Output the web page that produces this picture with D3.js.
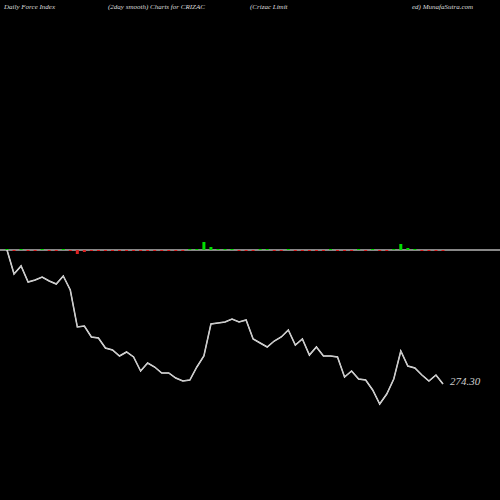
<!DOCTYPE html>
<html><head><meta charset="utf-8">
<script src="https://cdn.jsdelivr.net/npm/d3@7"></script>
<style>body{margin:0;background:#000}</style>
</head><body>
<script>
var closes = [341.3,329.3,333.3,325.3,326.3,327.8,325.8,324.3,328.3,321.3,302.8,303.3,297.8,297.3,292.3,291.3,288.3,290.3,287.8,280.8,284.8,282.8,279.8,279.8,277.3,275.8,276.3,282.8,288.3,304.3,304.8,305.3,306.8,305.3,306.3,296.8,294.8,292.8,295.8,297.8,301.3,293.8,296.8,288.8,292.8,288.3,288.3,287.8,277.8,280.8,276.8,276.3,271.3,264.3,269.3,276.8,290.8,283.3,282.3,278.8,275.8,278.8,274.3];
var force = [1,-1,1,-1,-1,1,-1,-1,1,-1,-4,-2,-1,-1,-1,-1,-1,-1,-1,-1,-1,-1,-1,-1,-1,-1,1,1,8,3,1,1,1,-1,-1,-1,1,1,-1,-1,1,-1,-1,-1,-1,-1,1,-1,-1,-1,1,-1,1,-1,-1,1,6,2,1,-1,-1,-1,-1];
var lastLabel = "274.30";

var width = 500, height = 500;
var svg = d3.select("body").append("svg").attr("width", width).attr("height", height)
  .style("font-family", "'Liberation Serif', serif").style("font-style", "italic");
svg.append("rect").attr("width", width).attr("height", height).attr("fill", "#000");

var x = d3.scaleLinear().domain([0, closes.length - 1]).range([7, 443]);
var y = d3.scaleLinear().domain([264.3, 341.3]).range([404, 250]);
var f = d3.scaleLinear().domain([0, 1]).range([250, 249]);

svg.append("line").attr("x1", 0).attr("x2", width).attr("y1", 250).attr("y2", 250)
  .attr("stroke", "#888").attr("stroke-width", 2);

svg.selectAll(".bar").data(force).enter().append("rect")
  .attr("x", function (d, i) { return x(i) - 1.5; })
  .attr("y", function (d) { return Math.min(f(d), 250); })
  .attr("width", 3)
  .attr("height", function (d) { return Math.abs(f(d) - 250); })
  .attr("fill", function (d) { return d > 0 ? "#00dd00" : "#dd2222"; });

svg.append("path").datum(closes)
  .attr("d", d3.line().x(function (d, i) { return x(i); }).y(function (d) { return y(d); }))
  .attr("fill", "none").attr("stroke", "#fff").attr("stroke-width", 1.5);
svg.append("path").datum(closes)
  .attr("d", d3.line().x(function (d, i) { return x(i); }).y(function (d) { return y(d); }))
  .attr("fill", "none").attr("stroke", "#999").attr("stroke-width", 0.6);

svg.append("text").attr("x", 450).attr("y", y(closes[closes.length - 1]) + 1)
  .attr("fill", "#ccc").attr("font-size", 11).text(lastLabel);

var titles = [[4, "Daily Force  Index"], [108, "(2day smooth) Charts for CRIZAC"], [250, "(Crizac Limit"], [412, "ed) MunafaSutra.com"]];
svg.selectAll(".t").data(titles).enter().append("text")
  .attr("x", function (d) { return d[0]; }).attr("y", 9)
  .attr("fill", "#ddd").attr("font-size", 7)
  .text(function (d) { return d[1]; });
</script>
</body></html>
